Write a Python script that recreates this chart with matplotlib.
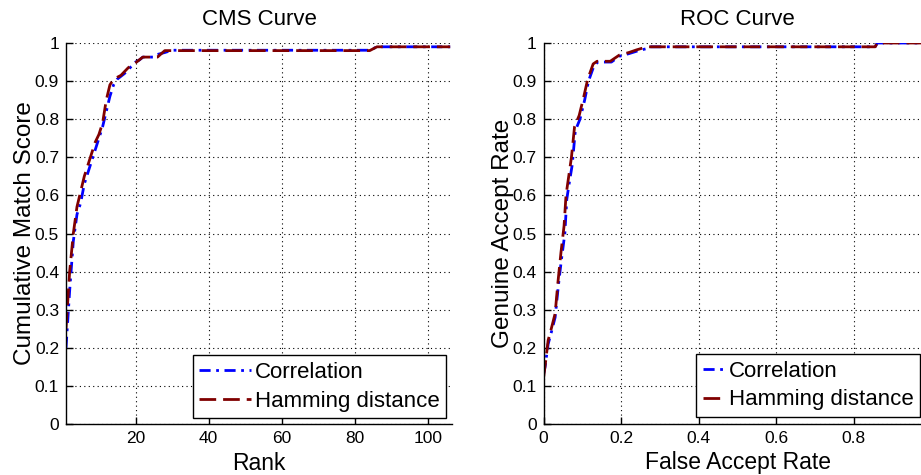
import matplotlib
matplotlib.use("Agg")
import matplotlib.pyplot as plt

plt.rcParams['font.family'] = ['Liberation Sans', 'DejaVu Sans']

# ---- CMS data ----
rank_corr = [1, 2, 3, 4, 5, 6, 7, 8, 9, 10, 11, 12, 13, 14, 15, 17, 19, 20, 21, 22, 25, 26, 28, 30, 84, 86, 106]
cms_corr = [0.20, 0.35, 0.48, 0.55, 0.58, 0.63, 0.66, 0.69, 0.72, 0.75, 0.78, 0.82, 0.86, 0.89, 0.905,
            0.92, 0.94, 0.95, 0.955, 0.963, 0.963, 0.97, 0.975, 0.981, 0.981, 0.99, 0.99]
rank_ham = [1, 2, 3, 4, 5, 6, 7, 8, 9, 10, 11, 12, 13, 14, 16, 18, 20, 22, 26, 28, 84, 86, 106]
cms_ham = [0.25, 0.40, 0.50, 0.57, 0.61, 0.65, 0.68, 0.71, 0.74, 0.76, 0.79, 0.85, 0.89, 0.905,
           0.915, 0.935, 0.948, 0.963, 0.963, 0.98, 0.98, 0.99, 0.99]

# ---- ROC data ----
far_corr = [0, 0, 0.004, 0.012, 0.02, 0.03, 0.038, 0.046, 0.055, 0.06, 0.066, 0.074, 0.082, 0.094,
            0.106, 0.116, 0.13, 0.14, 0.175, 0.195, 0.22, 0.245, 0.265, 0.27, 0.855, 0.86, 1.0]
gar_corr = [0, 0.13, 0.15, 0.21, 0.24, 0.28, 0.36, 0.43, 0.50, 0.59, 0.63, 0.68, 0.77, 0.80,
            0.85, 0.90, 0.94, 0.95, 0.95, 0.965, 0.972, 0.98, 0.985, 0.99, 0.99, 1.0, 1.0]
far_ham = [0, 0, 0.005, 0.012, 0.02, 0.03, 0.037, 0.045, 0.053, 0.058, 0.065, 0.072, 0.08, 0.092,
           0.104, 0.114, 0.128, 0.138, 0.172, 0.195, 0.22, 0.24, 0.26, 0.27, 0.855, 0.86, 1.0]
gar_ham = [0, 0.12, 0.16, 0.22, 0.25, 0.29, 0.37, 0.45, 0.52, 0.60, 0.65, 0.70, 0.78, 0.81,
           0.86, 0.905, 0.945, 0.952, 0.952, 0.968, 0.975, 0.982, 0.988, 0.99, 0.99, 1.0, 1.0]

series_labels = ['Correlation', 'Hamming distance']
yticks = [0, 0.1, 0.2, 0.3, 0.4, 0.5, 0.6, 0.7, 0.8, 0.9, 1]
ytick_labels = ['0', '0.1', '0.2', '0.3', '0.4', '0.5', '0.6', '0.7', '0.8', '0.9', '1']
cms_xticks = [20, 40, 60, 80, 100]
roc_xticks = [0, 0.2, 0.4, 0.6, 0.8]
roc_xtick_labels = ['0', '0.2', '0.4', '0.6', '0.8']

W, H = 921, 475
fig = plt.figure(figsize=(W / 100, H / 100), dpi=100)

ax1 = fig.add_axes([66 / W, 51 / H, 386 / W, 381 / H])
ax2 = fig.add_axes([543.5 / W, 51 / H, 388 / W, 381 / H])

blue = (0, 0, 1)
red = (0.5, 0, 0)


def style(ax):
    for s in ['top', 'right']:
        ax.spines[s].set_visible(False)
    for s in ['left', 'bottom']:
        ax.spines[s].set_linewidth(1.0)
    ax.tick_params(direction='in', length=5, width=1, labelsize=12.5, pad=5)
    ax.grid(True, color='black', linestyle=(0, (1, 3)), linewidth=0.8)
    ax.set_axisbelow(True)
    ax.set_ylim(0, 1)
    ax.set_yticks(yticks)
    ax.set_yticklabels(ytick_labels)


# CMS
ax1.plot(rank_corr, cms_corr, color=blue, linestyle=(0, (4, 2, 1, 2)), linewidth=2, label=series_labels[0])
ax1.plot(rank_ham, cms_ham, color=red, linestyle=(0, (6, 2.5)), linewidth=2, label=series_labels[1])
style(ax1)
ax1.set_xlim(1, 106.5)
ax1.set_xticks(cms_xticks)
ax1.set_xticklabels([str(t) for t in cms_xticks])
ax1.set_title('CMS Curve', fontsize=16, pad=13)
ax1.set_xlabel('Rank', fontsize=16.5, labelpad=4)
ax1.set_ylabel('Cumulative Match Score', fontsize=17.5, labelpad=-1)

# ROC
ax2.plot(far_corr, gar_corr, color=blue, linestyle=(0, (4, 2, 1, 2)), linewidth=2, label=series_labels[0])
ax2.plot(far_ham, gar_ham, color=red, linestyle=(0, (6, 2.5)), linewidth=2, label=series_labels[1])
style(ax2)
ax2.set_xlim(0, 1)
ax2.set_xticks(roc_xticks)
ax2.set_xticklabels(roc_xtick_labels)
ax2.set_title('ROC Curve', fontsize=16, pad=13)
ax2.set_xlabel('False Accept Rate', fontsize=16.5, labelpad=4)
ax2.set_ylabel('Genuine Accept Rate', fontsize=17.5, labelpad=-1)

leg1 = ax1.legend(loc='lower right', fontsize=16, frameon=True, fancybox=False,
                  handlelength=2.3, handletextpad=0.2, borderpad=0.3,
                  labelspacing=0.35, borderaxespad=0.25)
leg2 = ax2.legend(loc='lower right', bbox_to_anchor=(920 / W, 58 / H),
                  bbox_transform=fig.transFigure, fontsize=16, frameon=True, fancybox=False,
                  handlelength=1.0, handletextpad=0.15, borderpad=0.3,
                  labelspacing=0.35, borderaxespad=0)
for leg in (leg1, leg2):
    leg.get_frame().set_edgecolor('black')
    leg.get_frame().set_linewidth(1.0)
    leg.get_frame().set_alpha(1)

fig.savefig('out.png', dpi=100)
